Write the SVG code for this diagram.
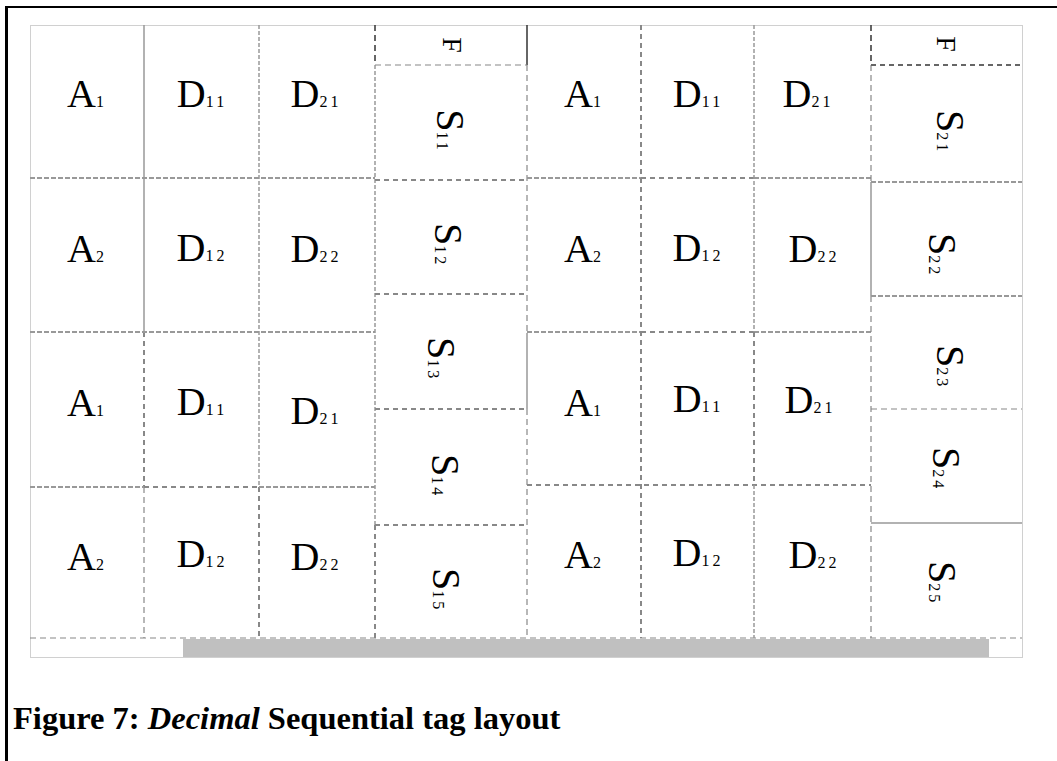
<svg xmlns="http://www.w3.org/2000/svg" width="1057" height="761" viewBox="0 0 1057 761">
<style>
.fr{fill:none;stroke:#a0a0a0;stroke-width:1;stroke-dasharray:1 1}
.sd{stroke:#999;stroke-width:1.5}
.pd{stroke:#888;stroke-width:1.2;stroke-dasharray:6 4}
.wv{stroke:#999;stroke-width:1.5;stroke-dasharray:4 2}
.hs{stroke:#999;stroke-width:2;stroke-dasharray:5 2}
.th{stroke:#888;stroke-width:2;stroke-dasharray:5 4}
.dk{stroke:#333;stroke-width:1.5;stroke-dasharray:6 4}
.bk{stroke:#333;stroke-width:1.5}
.lb{font-family:"Liberation Serif","Times New Roman",serif;font-size:40px;fill:#000;text-anchor:middle}
.sub{font-size:16px;letter-spacing:3px}
.fl{font-family:"Liberation Serif","Times New Roman",serif;font-size:28px;fill:#000;text-anchor:middle}
.cap{font-family:"Liberation Serif","Times New Roman",serif;font-size:32.5px;font-weight:bold;fill:#000}
</style>
<rect x="0" y="0" width="1057" height="761" fill="#fff"/>
<g id="page-frame">
<line x1="6.5" y1="6" x2="6.5" y2="761" stroke="#000" stroke-width="3"/>
<line x1="5" y1="7" x2="1057" y2="7" stroke="#000" stroke-width="2"/>
</g>
<g id="scrollbar">
<rect x="183" y="639" width="806" height="18" fill="#c0c0c0"/>
</g>
<g id="connectors">
<rect class="fr" x="30.5" y="25.5" width="992" height="632"/>
<line class="sd" x1="144" y1="25" x2="144" y2="332"/>
<line class="th" x1="144" y1="332" x2="144" y2="487"/>
<line class="pd" x1="144" y1="487" x2="144" y2="638"/>
<line class="wv" x1="259" y1="25" x2="259" y2="487"/>
<line class="th" x1="259" y1="487" x2="259" y2="638"/>
<line class="hs" x1="30" y1="178" x2="375" y2="178"/>
<line class="hs" x1="30" y1="332" x2="375" y2="332"/>
<line class="hs" x1="30" y1="487" x2="144" y2="487"/>
<line class="th" x1="144" y1="487" x2="259" y2="487"/>
<line class="hs" x1="259" y1="487" x2="375" y2="487"/>
<line class="pd" x1="30" y1="638" x2="1022" y2="638"/>
<line class="dk" x1="375" y1="25" x2="375" y2="65"/>
<line class="wv" x1="375" y1="65" x2="375" y2="525"/>
<line class="th" x1="375" y1="525" x2="375" y2="638"/>
<line class="bk" x1="527" y1="25" x2="527" y2="65"/>
<line class="pd" x1="527" y1="65" x2="527" y2="333"/>
<line class="sd" x1="527" y1="333" x2="527" y2="409"/>
<line class="pd" x1="527" y1="409" x2="527" y2="638"/>
<line class="pd" x1="375" y1="65" x2="527" y2="65"/>
<line class="th" x1="375" y1="180" x2="527" y2="180"/>
<line class="th" x1="375" y1="294" x2="527" y2="294"/>
<line class="th" x1="375" y1="409" x2="527" y2="409"/>
<line class="th" x1="375" y1="525" x2="527" y2="525"/>
<line class="hs" x1="527" y1="178" x2="641" y2="178"/>
<line class="th" x1="641" y1="178" x2="754" y2="178"/>
<line class="hs" x1="754" y1="178" x2="871" y2="178"/>
<line class="hs" x1="527" y1="332" x2="641" y2="332"/>
<line class="th" x1="641" y1="332" x2="754" y2="332"/>
<line class="hs" x1="754" y1="332" x2="871" y2="332"/>
<line class="th" x1="527" y1="485" x2="871" y2="485"/>
<line class="th" x1="641" y1="25" x2="641" y2="638"/>
<line class="wv" x1="754" y1="25" x2="754" y2="332"/>
<line class="th" x1="754" y1="332" x2="754" y2="485"/>
<line class="wv" x1="754" y1="485" x2="754" y2="638"/>
<line class="dk" x1="871" y1="25" x2="871" y2="65"/>
<line class="pd" x1="871" y1="65" x2="871" y2="182"/>
<line class="sd" x1="871" y1="182" x2="871" y2="296"/>
<line class="pd" x1="871" y1="296" x2="871" y2="638"/>
<line class="th" x1="871" y1="65" x2="1022" y2="65" style="stroke:#666"/>
<line class="hs" x1="871" y1="182" x2="1022" y2="182"/>
<line class="hs" x1="871" y1="296" x2="1022" y2="296"/>
<line class="pd" x1="871" y1="409" x2="1022" y2="409"/>
<line class="sd" x1="871" y1="523" x2="1022" y2="523"/>
</g>
<g id="L-r1-A1"><text class="lb" x="87" y="107">A<tspan class="sub">1</tspan></text></g>
<g id="L-r1-D11"><text class="lb" x="202" y="107">D<tspan class="sub">11</tspan></text></g>
<g id="L-r1-D21"><text class="lb" x="316" y="107">D<tspan class="sub">21</tspan></text></g>
<g id="L-r2-A2"><text class="lb" x="87" y="262">A<tspan class="sub">2</tspan></text></g>
<g id="L-r2-D12"><text class="lb" x="202" y="261">D<tspan class="sub">12</tspan></text></g>
<g id="L-r2-D22"><text class="lb" x="316" y="262">D<tspan class="sub">22</tspan></text></g>
<g id="L-r3-A1"><text class="lb" x="87" y="416">A<tspan class="sub">1</tspan></text></g>
<g id="L-r3-D11"><text class="lb" x="202" y="415">D<tspan class="sub">11</tspan></text></g>
<g id="L-r3-D21"><text class="lb" x="316" y="424">D<tspan class="sub">21</tspan></text></g>
<g id="L-r4-A2"><text class="lb" x="87" y="570">A<tspan class="sub">2</tspan></text></g>
<g id="L-r4-D12"><text class="lb" x="202" y="567">D<tspan class="sub">12</tspan></text></g>
<g id="L-r4-D22"><text class="lb" x="316" y="570">D<tspan class="sub">22</tspan></text></g>
<g id="R-r1-A1"><text class="lb" x="584" y="107">A<tspan class="sub">1</tspan></text></g>
<g id="R-r1-D11"><text class="lb" x="698" y="107">D<tspan class="sub">11</tspan></text></g>
<g id="R-r1-D21"><text class="lb" x="808" y="107">D<tspan class="sub">21</tspan></text></g>
<g id="R-r2-A2"><text class="lb" x="584" y="262">A<tspan class="sub">2</tspan></text></g>
<g id="R-r2-D12"><text class="lb" x="698" y="261">D<tspan class="sub">12</tspan></text></g>
<g id="R-r2-D22"><text class="lb" x="814" y="262">D<tspan class="sub">22</tspan></text></g>
<g id="R-r3-A1"><text class="lb" x="584" y="416">A<tspan class="sub">1</tspan></text></g>
<g id="R-r3-D11"><text class="lb" x="698" y="412">D<tspan class="sub">11</tspan></text></g>
<g id="R-r3-D21"><text class="lb" x="810" y="413">D<tspan class="sub">21</tspan></text></g>
<g id="R-r4-A2"><text class="lb" x="584" y="568">A<tspan class="sub">2</tspan></text></g>
<g id="R-r4-D12"><text class="lb" x="698" y="566">D<tspan class="sub">12</tspan></text></g>
<g id="R-r4-D22"><text class="lb" x="814" y="568">D<tspan class="sub">22</tspan></text></g>
<g id="F1"><text class="fl" transform="translate(443,45) rotate(90)">F</text></g>
<g id="S11"><text class="lb" transform="translate(437,131) rotate(90)">S<tspan class="sub">11</tspan></text></g>
<g id="S12"><text class="lb" transform="translate(435,245) rotate(90)">S<tspan class="sub">12</tspan></text></g>
<g id="S13"><text class="lb" transform="translate(428,359) rotate(90)">S<tspan class="sub">13</tspan></text></g>
<g id="S14"><text class="lb" transform="translate(432,476) rotate(90)">S<tspan class="sub">14</tspan></text></g>
<g id="S15"><text class="lb" transform="translate(433,590) rotate(90)">S<tspan class="sub">15</tspan></text></g>
<g id="F2"><text class="fl" transform="translate(937,44) rotate(90)">F</text></g>
<g id="S21"><text class="lb" transform="translate(937,132) rotate(90)">S<tspan class="sub">21</tspan></text></g>
<g id="S22"><text class="lb" transform="translate(929,255) rotate(90)">S<tspan class="sub">22</tspan></text></g>
<g id="S23"><text class="lb" transform="translate(937,367) rotate(90)">S<tspan class="sub">23</tspan></text></g>
<g id="S24"><text class="lb" transform="translate(933,469) rotate(90)">S<tspan class="sub">24</tspan></text></g>
<g id="S25"><text class="lb" transform="translate(929,583) rotate(90)">S<tspan class="sub">25</tspan></text></g>
<g id="caption"><text class="cap" x="13" y="729">Figure 7: <tspan font-style="italic">Decimal</tspan> Sequential tag layout</text></g>
</svg>
